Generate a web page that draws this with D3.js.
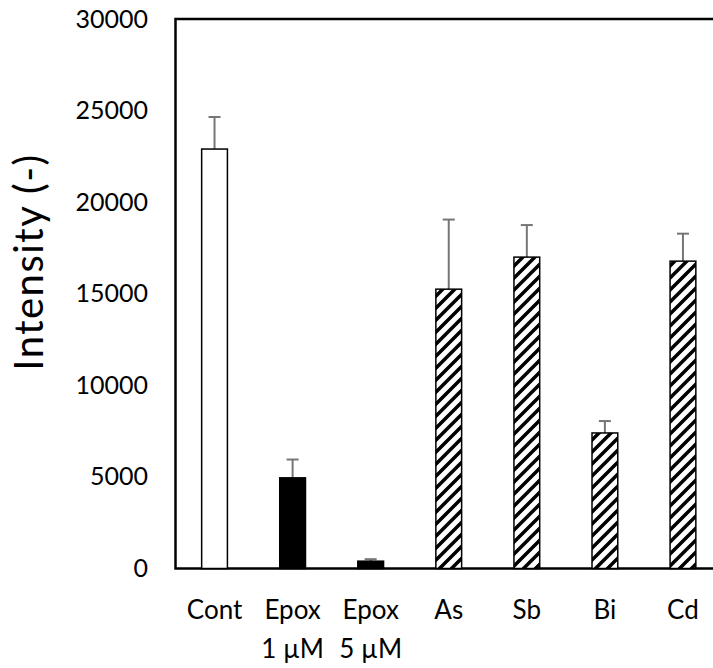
<!DOCTYPE html>
<html>
<head>
<meta charset="utf-8">
<script src="https://cdn.jsdelivr.net/npm/d3@7"></script>
<style>
  body { margin: 0; background: #fff; }
  svg { display: block; }
</style>
</head>
<body>
<div id="chart"></div>
<script>
// datos
var categories = ["Cont", "Epox1", "Epox5", "As", "Sb", "Bi", "Cd"];
var labelLines = [["Cont"], ["Epox", "1 µM"], ["Epox", "5 µM"], ["As"], ["Sb"], ["Bi"], ["Cd"]];
var values = [22900, 4950, 400, 15250, 17000, 7400, 16780];
var errors = [1750, 1000, 110, 3800, 1750, 650, 1500];
var fills = ["white", "black", "black", "hatch", "hatch", "hatch", "hatch"];
var yTicks = [0, 5000, 10000, 15000, 20000, 25000, 30000];

var width = 713;
var height = 668;
var pLeft = 175.5, pTop = 19, pRight = 722, pBottom = 568.5;

var svg = d3.select('#chart')
    .append('svg')
    .attr('width', width)
    .attr('height', height);

// patron rayado
var pat = svg.append('defs')
    .append('pattern')
    .attr('id', 'hatch')
    .attr('patternUnits', 'userSpaceOnUse')
    .attr('width', 12)
    .attr('height', 12);
pat.append('rect').attr('width', 12).attr('height', 12).attr('fill', 'white');
pat.append('path')
    .attr('d', 'M0,12 L12,0 M-3,3 L3,-3 M9,15 L15,9')
    .attr('stroke', 'black')
    .attr('stroke-width', 3.5);

var x = d3.scaleBand()
    .domain(categories)
    .range([pLeft, pRight])
    .paddingInner(0.67)
    .paddingOuter(0.335);

var y = d3.scaleLinear()
    .domain([0, 30000])
    .range([pBottom, pTop]);

var data = categories.map(function(c, i) {
    return {cat: c, value: values[i], err: errors[i], fill: fills[i], lines: labelLines[i]};
});

// marco
svg.append('rect')
    .attr('x', pLeft)
    .attr('y', pTop)
    .attr('width', pRight - pLeft)
    .attr('height', pBottom - pTop)
    .attr('fill', 'none')
    .attr('stroke', 'black')
    .attr('stroke-width', 2.5);

// barras de error
var eb = svg.append('g')
    .attr('stroke', '#767676')
    .attr('stroke-width', 2);
eb.selectAll('line.v')
    .data(data)
    .enter()
    .append('line')
    .attr('x1', d => x(d.cat) + x.bandwidth() / 2)
    .attr('x2', d => x(d.cat) + x.bandwidth() / 2)
    .attr('y1', d => y(d.value))
    .attr('y2', d => y(d.value + d.err));
eb.selectAll('line.c')
    .data(data)
    .enter()
    .append('line')
    .attr('x1', d => x(d.cat) + x.bandwidth() / 2 - 6)
    .attr('x2', d => x(d.cat) + x.bandwidth() / 2 + 6)
    .attr('y1', d => y(d.value + d.err))
    .attr('y2', d => y(d.value + d.err));

// barras
svg.selectAll('rect.bar')
    .data(data)
    .enter()
    .append('rect')
    .attr('class', 'bar')
    .attr('x', d => x(d.cat))
    .attr('y', d => y(d.value))
    .attr('width', x.bandwidth())
    .attr('height', d => y(0) - y(d.value))
    .attr('fill', d => d.fill == 'hatch' ? 'url(#hatch)' : d.fill)
    .attr('stroke', 'black')
    .attr('stroke-width', 1.5);

// eje Y
var yaxis = svg.append('g')
    .attr('transform', 'translate(' + pLeft + ',0)')
    .call(d3.axisLeft(y).tickValues(yTicks).tickFormat(d3.format('d')).tickSize(0).tickPadding(27.5));
yaxis.select('.domain').remove();
yaxis.selectAll('text')
    .style('font-family', 'Lato, sans-serif')
    .style('font-size', '25px')
    .attr('fill', 'black');

// eje X
var xaxis = svg.append('g')
    .attr('transform', 'translate(0,' + pBottom + ')')
    .call(d3.axisBottom(x).tickSize(0));
xaxis.select('.domain').remove();
xaxis.selectAll('.tick text').remove();
xaxis.selectAll('.tick')
    .data(data)
    .append('text')
    .attr('text-anchor', 'middle')
    .attr('fill', 'black')
    .style('font-family', 'Lato, sans-serif')
    .style('font-size', '26px')
    .selectAll('tspan')
    .data(d => d.lines)
    .enter()
    .append('tspan')
    .attr('x', 0)
    .attr('y', (d, i) => 50 + i * 39)
    .text(d => d);

// titulo eje Y
svg.append('text')
    .attr('transform', 'translate(43,262) rotate(-90)')
    .attr('text-anchor', 'middle')
    .style('font-family', 'Lato, sans-serif')
    .style('font-size', '40px')
    .style('letter-spacing', '1.5px')
    .text('Intensity (-)');
</script>
</body>
</html>
